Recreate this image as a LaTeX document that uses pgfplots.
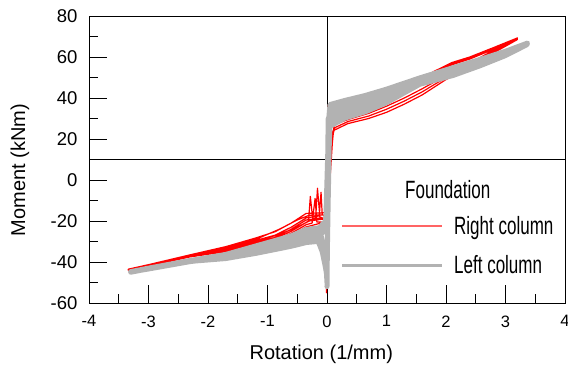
\documentclass[border=0pt]{standalone}
\usepackage{fontspec}
\setmainfont{Liberation Sans}
\newfontfamily\legfont[FakeStretch=0.68]{Liberation Sans}
\usepackage{pgfplots}
\pgfplotsset{compat=1.18}
\definecolor{lgray}{RGB}{178,178,178}
\definecolor{lred}{RGB}{255,100,100}
\begin{document}
\begin{tikzpicture}
\path[use as bounding box] (0,0) rectangle (568pt,365pt);
\begin{axis}[
  at={(89pt,62pt)}, anchor=south west,
  scale only axis, width=476pt, height=287pt,
  xmin=-4, xmax=4, ymin=-60, ymax=80,
  xtick={-4,-3,...,4}, ytick={-60,-40,...,80},
  minor x tick num=1, minor y tick num=1,
  tick align=inside, tick pos=left,
  major tick length=18pt, minor tick length=9pt,
  axis line style={line width=0.9pt},
  every tick/.style={black, line width=0.9pt},
  /pgf/number format/assume math mode=true,
  xticklabel style={font=\fontsize{16.5}{18}\selectfont, yshift=-9pt},
  yticklabel style={font=\fontsize{18.5}{20}\selectfont, xshift=-8pt},
  xlabel={Rotation (1/mm)}, ylabel={Moment (kNm)},
  label style={font=\fontsize{20}{22}\selectfont},
  xlabel style={at={(axis description cs:0.488,-0.178)}, anchor=center},
  ylabel style={at={(axis description cs:-0.145,0.463)}, anchor=center},
  legend cell align=left,
  legend image code/.code={\draw[#1] (0pt,0pt) -- (100pt,0pt); \path (111pt,0pt);},
  legend style={at={(rel axis cs:0.529,0.2)}, anchor=west, draw=none, fill=none,
    inner sep=0pt, row sep=20pt, font=\legfont\fontsize{25}{27}\selectfont,
    nodes={inner sep=0pt}},
]
\addplot[black, line width=0.9pt, forget plot] coordinates {(0,-60) (0,80)};
\addplot[black, line width=0.9pt, forget plot] coordinates {(-4,10) (4,10)};

\addplot[red, line width=1.2pt, line join=round, forget plot] coordinates {
(0.0,-20) (0.03,-10) (0.06,10) (0.08,20) (0.1,24)
(0.35,27.5) (0.7,30) (1.0,33) (1.3,37) (1.6,41.5) (2.0,49) (2.4,55.5) (2.8,62) (3.2,68.5)
(3.2,69) (2.8,64.2) (2.4,59.5) (2.1,56.8) (1.8,52.5) (1.5,47.5) (1.2,43) (0.8,38) (0.4,33.5) (0.15,31) (0.05,29)
(0.02,36.5) (0.01,20) (0.0,0) (-0.02,-16)
(-0.05,-16) (-0.35,-16.3) (-0.6,-21) (-0.87,-25.2) (-1.2,-28.3) (-1.7,-32.5) (-2.3,-36.5) (-3.0,-41.3) (-3.34,-43.5)
(-3.34,-44) (-3.0,-42) (-2.3,-37.5) (-1.7,-35) (-1.2,-32) (-0.87,-30.3) (-0.6,-27) (-0.35,-22.9) (-0.1,-21)
(-0.02,-22) (-0.01,-55) (0.0,-40) (0.0,-20)
(0.02,-10) (0.07,10) (0.1,22) (0.13,25.5)
(0.35,28.5) (0.7,31.2) (1.0,34.5) (1.3,38.5) (1.6,43) (2.0,50) (2.4,56.5) (2.8,62.8) (3.2,68.8)
(3.2,69.3) (2.8,64.6) (2.4,60) (2.1,57.3) (1.8,53) (1.5,48) (1.2,43.5) (0.8,38.5) (0.4,34) (0.15,31.5) (0.05,30)
(0.02,25) (0.0,5) (-0.03,-17.5)
(-0.08,-17) (-0.1,-6) (-0.13,-17.5) (-0.35,-18.5) (-0.6,-23) (-0.87,-26.9) (-1.2,-29.5) (-1.7,-33.3) (-2.3,-36.8) (-3.0,-41.5) (-3.34,-43.7)
(-3.34,-43.9) (-3.0,-41.9) (-2.3,-37.3) (-1.7,-34.6) (-1.2,-31.4) (-0.87,-29.5) (-0.6,-26) (-0.35,-21.8) (-0.25,-21) (-0.2,-9) (-0.17,-20.5) (-0.1,-20.5)
(0.0,-21) (0.03,-15)
(0.05,0) (0.09,18) (0.12,27)
(0.35,29.5) (0.7,32.5) (1.0,36) (1.3,40) (1.6,44.5) (2.0,51) (2.4,57) (2.8,63.3) (3.2,69)
(3.2,68.8) (2.8,63.8) (2.4,59) (2.1,56.2) (1.8,52) (1.5,47) (1.2,42.5) (0.8,37.5) (0.4,33) (0.15,30.5) (0.05,28)
(0.02,20) (0.0,0) (-0.04,-19)
(-0.12,-18) (-0.16,-4) (-0.19,-18.5) (-0.24,-19) (-0.28,-8) (-0.31,-20) (-0.35,-20.7) (-0.6,-25) (-0.87,-28.6) (-1.2,-30.8) (-1.7,-34.2) (-2.3,-37.2) (-3.0,-41.8) (-3.34,-43.8)
(-3.34,-43.8) (-3.0,-41.6) (-2.3,-37) (-1.7,-33.8) (-1.2,-30.5) (-0.87,-28) (-0.6,-24) (-0.35,-19.5) (-0.1,-18.5)
(-0.03,-20) (0.0,-25)
(-0.05,-17) (-0.3,-17.2) (-0.5,-19.5) (-0.8,-24) (-1.2,-29) (-1.7,-33) (-2.3,-36.7) (-2.0,-35.6) (-1.2,-30) (-0.8,-26.5) (-0.5,-23) (-0.3,-20) (-0.05,-19)
};

\addplot[lgray, line width=5pt, line join=round, line cap=round, forget plot] coordinates {
(0.0,-52) (0.01,-20) (0.02,10) (0.04,20) (0.05,26.2)
(0.3,30.2) (0.64,33.2) (1.0,37.7) (1.56,46.7) (2.12,51) (2.57,55.7) (3.0,60.7) (3.36,66)
(3.37,66.8) (3.0,62.8) (2.57,58.8) (2.12,54.8) (1.56,49.8) (1.0,44.3) (0.64,41.2) (0.3,38.8) (0.05,36.8)
(0.03,30) (0.0,0) (-0.02,-20) (-0.1,-23.2)
(-0.35,-24.1) (-0.6,-27.2) (-0.87,-29.5) (-1.2,-32.2) (-1.7,-36.3) (-2.3,-39.3) (-3.0,-43.1) (-3.3,-44.7)
(-3.3,-45) (-3.0,-43.3) (-2.3,-39.7) (-1.7,-38.3) (-1.2,-35.8) (-0.87,-33.9) (-0.6,-32.3) (-0.35,-30.5) (-0.1,-29.8)
(-0.02,-40) (0.0,-50) (0.01,-25) (0.03,10) (0.05,28.6)
(0.3,32.1) (0.64,34.95) (1.0,39.1) (1.56,47.2) (2.12,51.7) (2.57,56.2) (3.0,61) (3.36,66.2)
(3.36,66.6) (3.0,62.5) (2.57,58.3) (2.12,54.1) (1.56,49.3) (1.0,42.9) (0.64,39.45) (0.3,36.9) (0.05,34.4)
(0.02,20) (0.0,-10) (-0.03,-22) (-0.1,-24.6)
(-0.35,-25.45) (-0.6,-28.2) (-0.87,-30.35) (-1.2,-32.85) (-1.7,-36.55) (-2.3,-39.25) (-3.0,-43) (-3.3,-44.7)
(-3.3,-45) (-3.0,-43.3) (-2.3,-39.75) (-1.7,-38.05) (-1.2,-35.15) (-0.87,-33.05) (-0.6,-31.3) (-0.35,-29.15) (-0.1,-28.4)
(-0.02,-35) (0.0,-45) (0.02,-10) (0.04,20) (0.05,31.5)
(0.3,34.5) (0.64,37.2) (1.0,41) (1.56,48.25) (2.12,52.9) (2.57,57.25) (3.0,61.75) (3.36,66.4)
(3.0,62) (2.57,57.6) (2.12,53.3) (1.56,48.7) (1.0,41.5) (0.64,37.8) (0.3,35.2) (0.05,33)
(0.02,0) (-0.03,-24) (-0.1,-26.5)
(-0.35,-27.3) (-0.6,-29.75) (-0.87,-31.7) (-1.2,-34) (-1.7,-37.3) (-2.3,-39.5) (-3.0,-43.15) (-3.3,-44.85)
(-3.0,-43.4) (-2.3,-39.8) (-1.7,-37.6) (-1.2,-34.5) (-0.87,-32.3) (-0.6,-30.4) (-0.35,-28) (-0.1,-27)
(-0.02,-38) (0.0,-48) (0.01,-20) (0.02,30)
(0.0,-20) (-0.06,-21) (-0.2,-26) (-0.08,-35) (-0.03,-42) (0.0,-47)
};

\addlegendimage{draw=lred, line width=2pt}
\addlegendentry{Right column}
\addlegendimage{draw=lgray, line width=2.2pt}
\addlegendentry{Left column}

\node[font=\legfont\fontsize{25}{27}\selectfont, anchor=center] at (axis cs:2.03,-4.9) {Foundation};
\end{axis}
\end{tikzpicture}
\end{document}
